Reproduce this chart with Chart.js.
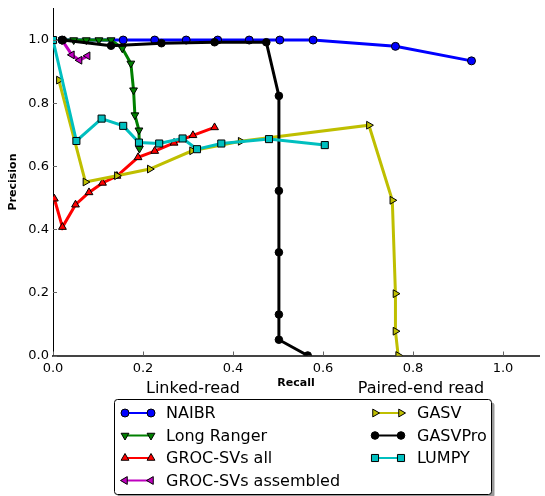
<!DOCTYPE html>
<html>
<head>
<meta charset="utf-8">
<script src="https://cdn.jsdelivr.net/npm/chart.js@4/dist/chart.umd.min.js"></script>
<style>
  html, body { margin: 0; padding: 0; background: #fff; }
  #wrap { width: 545px; height: 496px; }
</style>
</head>
<body>
<div id="wrap"><canvas id="prChart" width="545" height="496"></canvas></div>
<script>
// tick labels
var xTicks = [0, 0.2, 0.4, 0.6, 0.8, 1.0];
var yTicks = [0, 0.2, 0.4, 0.6, 0.8, 1.0];
var groupLabels = ['Linked-read', 'Paired-end read'];

// series (recall, precision)
var naibrRecall = [0.02, 0.156, 0.226, 0.296, 0.366, 0.436, 0.504, 0.578, 0.761, 0.930];
var naibrPrecision = [1.0, 1.0, 1.0, 1.0, 1.0, 1.0, 1.0, 1.0, 0.980, 0.934];

var longRangerRecall = [0.02, 0.046, 0.074, 0.102, 0.129, 0.154, 0.173, 0.179, 0.182, 0.191, 0.192];
var longRangerPrecision = [1.0, 1.0, 1.0, 1.0, 1.0, 0.974, 0.926, 0.841, 0.762, 0.714, 0.656];

var grocAllRecall = [0.003, 0.021, 0.050, 0.080, 0.110, 0.142, 0.189, 0.226, 0.269, 0.311, 0.359];
var grocAllPrecision = [0.497, 0.407, 0.478, 0.517, 0.547, 0.569, 0.628, 0.648, 0.674, 0.698, 0.723];

var grocAsmRecall = [0.020, 0.042, 0.059, 0.077];
var grocAsmPrecision = [1.0, 0.953, 0.936, 0.950];

var gasvRecall = [0.013, 0.072, 0.142, 0.215, 0.309, 0.417, 0.702, 0.754, 0.761, 0.761, 0.767];
var gasvPrecision = [0.873, 0.550, 0.570, 0.591, 0.649, 0.679, 0.730, 0.492, 0.196, 0.077, 0.0];

var gasvProRecall = [0.022, 0.129, 0.241, 0.359, 0.474, 0.502, 0.502, 0.502, 0.502, 0.502, 0.566];
var gasvProPrecision = [1.0, 0.982, 0.990, 0.993, 0.993, 0.823, 0.522, 0.327, 0.130, 0.050, 0.0];

var lumpyRecall = [0.0, 0.052, 0.108, 0.156, 0.191, 0.236, 0.288, 0.320, 0.374, 0.480, 0.604];
var lumpyPrecision = [1.0, 0.680, 0.751, 0.728, 0.675, 0.672, 0.688, 0.654, 0.672, 0.686, 0.667];

function pts(xs, ys) {
    return xs.map(function (x, i) { return { x: x, y: ys[i] }; });
}

function series(label, xs, ys, color, style, rot, radius, idx) {
    return {
        label: label,
        data: pts(xs, ys),
        borderColor: color,
        backgroundColor: color,
        borderWidth: 3,
        pointStyle: style,
        pointRotation: rot,
        pointRadius: radius,
        pointBackgroundColor: color,
        pointBorderColor: '#000',
        pointBorderWidth: 1,
        order: 10 - idx
    };
}

var datasets = [
    series('NAIBR', naibrRecall, naibrPrecision, '#0000ff', 'circle', 0, 4, 0),
    series('Long Ranger', longRangerRecall, longRangerPrecision, '#008000', 'triangle', 180, 4.5, 1),
    series('GROC-SVs all', grocAllRecall, grocAllPrecision, '#ff0000', 'triangle', 0, 4.5, 2),
    series('GROC-SVs assembled', grocAsmRecall, grocAsmPrecision, '#bf00bf', 'triangle', 270, 4.5, 3),
    series('GASV', gasvRecall, gasvPrecision, '#bfbf00', 'triangle', 90, 4.5, 4),
    series('GASVPro', gasvProRecall, gasvProPrecision, '#000000', 'circle', 0, 3.8, 5),
    series('LUMPY', lumpyRecall, lumpyPrecision, '#00bfbf', 'rect', 0, 5, 6)
];

var FONT = '"DejaVu Sans"';

// inward tick marks, group labels and the boxed two-column legend
var decorPlugin = {
    id: 'decor',
    afterDatasetsDraw: function (chart) {
        var ctx = chart.ctx, a = chart.chartArea;
        var xs = chart.scales.x, ys = chart.scales.y;
        ctx.save();
        ctx.strokeStyle = '#666';
        ctx.lineWidth = 1;
        ctx.beginPath();
        xTicks.forEach(function (v) {
            var px = Math.round(xs.getPixelForValue(v)) + 0.5;
            ctx.moveTo(px, a.bottom);
            ctx.lineTo(px, a.bottom - 4);
        });
        yTicks.forEach(function (v) {
            var py = Math.round(ys.getPixelForValue(v)) + 0.5;
            ctx.moveTo(a.left, py);
            ctx.lineTo(a.left + 4, py);
        });
        ctx.stroke();
        ctx.restore();
    },
    afterDraw: function (chart) {
        var ctx = chart.ctx;
        ctx.save();
        ctx.fillStyle = '#000';
        ctx.font = '16px ' + FONT;
        ctx.textAlign = 'center';
        ctx.textBaseline = 'middle';
        ctx.fillText(groupLabels[0], 193, 389);
        ctx.fillText(groupLabels[1], 421, 389);

        // legend box with shadow
        var bx = 114.5, by = 399.5, bw = 377, bh = 95;
        ctx.fillStyle = '#9a9a9a';
        ctx.beginPath();
        ctx.roundRect(bx + 3, by + 3, bw, bh, 3);
        ctx.fill();
        ctx.fillStyle = '#fff';
        ctx.strokeStyle = '#000';
        ctx.lineWidth = 1;
        ctx.beginPath();
        ctx.roundRect(bx, by, bw, bh, 3);
        ctx.fill();
        ctx.stroke();

        ctx.textAlign = 'left';
        chart.data.datasets.forEach(function (ds, i) {
            var col = i < 4 ? 0 : 1;
            var row = i < 4 ? i : i - 4;
            var x0 = col ? 375 : 125, x1 = col ? 401 : 151;
            var tx = col ? 417 : 166;
            var y = 413 + row * 22.5;
            ctx.strokeStyle = ds.borderColor;
            ctx.lineWidth = 2;
            ctx.beginPath();
            ctx.moveTo(x0, y);
            ctx.lineTo(x1, y);
            ctx.stroke();
            ctx.fillStyle = ds.pointBackgroundColor;
            ctx.strokeStyle = '#000';
            ctx.lineWidth = 1;
            [x0, x1].forEach(function (mx) {
                Chart.helpers.drawPoint(ctx, {
                    pointStyle: ds.pointStyle,
                    rotation: ds.pointRotation,
                    radius: ds.pointRadius,
                    borderWidth: 1
                }, mx, y);
            });
            ctx.fillStyle = '#000';
            ctx.font = '16px ' + FONT;
            ctx.fillText(ds.label, tx, y + 1);
        });
        ctx.restore();
    }
};

var prChart = new Chart(document.getElementById('prChart').getContext('2d'), {
    type: 'line',
    data: { datasets: datasets },
    plugins: [decorPlugin],
    options: {
        responsive: false,
        animation: false,
        layout: { padding: { top: 8.5, right: 0, bottom: 0, left: 0 } },
        plugins: {
            legend: { display: false },
            tooltip: { enabled: false }
        },
        scales: {
            x: {
                type: 'linear',
                min: 0,
                max: 1.08,
                afterBuildTicks: function (s) { s.ticks = xTicks.map(function (v) { return { value: v }; }); },
                afterFit: function (s) { s.height = 140.5; s.paddingLeft = 0; s.paddingRight = 0; },
                grid: { display: false, drawTicks: false },
                border: { display: true, color: '#444', width: 2 },
                ticks: {
                    color: '#000',
                    font: { family: FONT, size: 13 },
                    padding: 5,
                    maxRotation: 0,
                    autoSkip: false,
                    callback: function (v) { return v.toFixed(1); }
                },
                title: {
                    display: true,
                    text: 'Recall',
                    color: '#000',
                    font: { family: FONT, size: 11, weight: 'bold' },
                    padding: { top: 0, bottom: 106 }
                }
            },
            y: {
                type: 'linear',
                min: 0,
                max: 1.1,
                afterBuildTicks: function (s) { s.ticks = yTicks.map(function (v) { return { value: v }; }); },
                afterFit: function (s) { s.width = 53; s.paddingTop = 0; s.paddingBottom = 0; },
                grid: { display: false, drawTicks: false },
                border: { display: true, color: '#000', width: 1 },
                ticks: {
                    color: '#000',
                    font: { family: FONT, size: 13 },
                    padding: 4,
                    callback: function (v) { return v.toFixed(1); }
                },
                title: {
                    display: true,
                    text: 'Precision',
                    color: '#000',
                    font: { family: FONT, size: 11, weight: 'bold' },
                    padding: { top: 7, bottom: 0 }
                }
            }
        }
    }
});
</script>
</body>
</html>
